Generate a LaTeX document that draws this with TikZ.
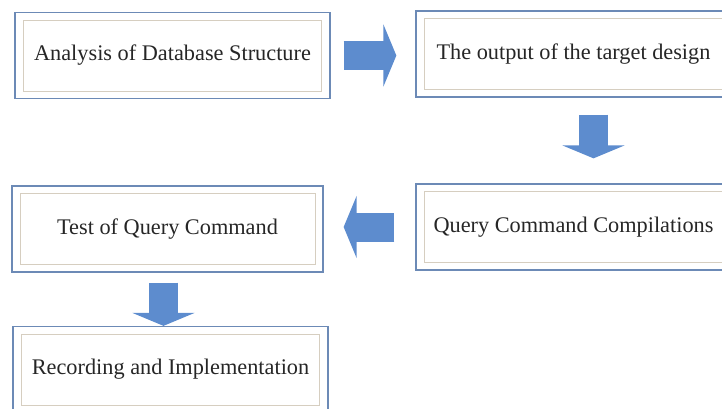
\documentclass[tikz,border=0pt]{standalone}
\usepackage{fontspec}
\setmainfont{Liberation Serif}
\usetikzlibrary{arrows.meta,calc}
\definecolor{boxline}{RGB}{108,138,182}
\definecolor{innerline}{RGB}{214,206,192}
\definecolor{arrowblue}{RGB}{93,140,206}
\definecolor{textgray}{RGB}{38,38,38}
\begin{document}
\begin{tikzpicture}[x=1pt,y=-1pt]
\tikzstyle{boxout}=[draw=boxline, line width=1.3pt, minimum width=315pt, minimum height=86pt, inner sep=0pt]
\tikzstyle{boxin}=[draw=innerline, line width=0.9pt, minimum width=298pt, minimum height=71pt, inner sep=0pt, text=textgray, font=\fontsize{22.3}{26}\selectfont]
\tikzstyle{blockarrow}=[arrowblue, line width=29pt, -{Triangle[length=13pt,width=62pt]}]
\clip (0,0) rectangle (722,408);
\node[boxout] (analysis) at (172.5,55.5) {};
\node[boxin] (analysis-in) at (analysis) {Analysis of Database Structure};
\node[boxout] (output) at (573.5,54) {};
\node[boxin] (output-in) at (output) {The output of the target design};
\node[boxout] (compile) at (573.5,227) {};
\node[boxin] (compile-in) at (compile) {Query Command Compilations};
\node[boxout, minimum width=311pt] (test) at (167.5,229) {};
\node[boxin, minimum width=295pt] (test-in) at (test) {Test of Query Command};
\node[boxout] (record) at (170.5,369.5) {};
\node[boxin] (record-in) at (record) {Recording and Implementation};
\draw[blockarrow, shorten <=13pt, shorten >=19pt] (analysis.east) -- (analysis.east -| output.west);
\draw[blockarrow, shorten <=17pt, shorten >=25pt] ([xshift=20pt]output.south) -- ([xshift=20pt]output.south |- compile.north);
\draw[blockarrow, shorten <=21pt, shorten >=20pt] (compile.west) -- (compile.west -| test.east);
\draw[blockarrow, shorten <=10pt, shorten >=0pt] ([xshift=-4pt]test.south) -- ([xshift=-4pt]test.south |- record.north);
\end{tikzpicture}
\end{document}
